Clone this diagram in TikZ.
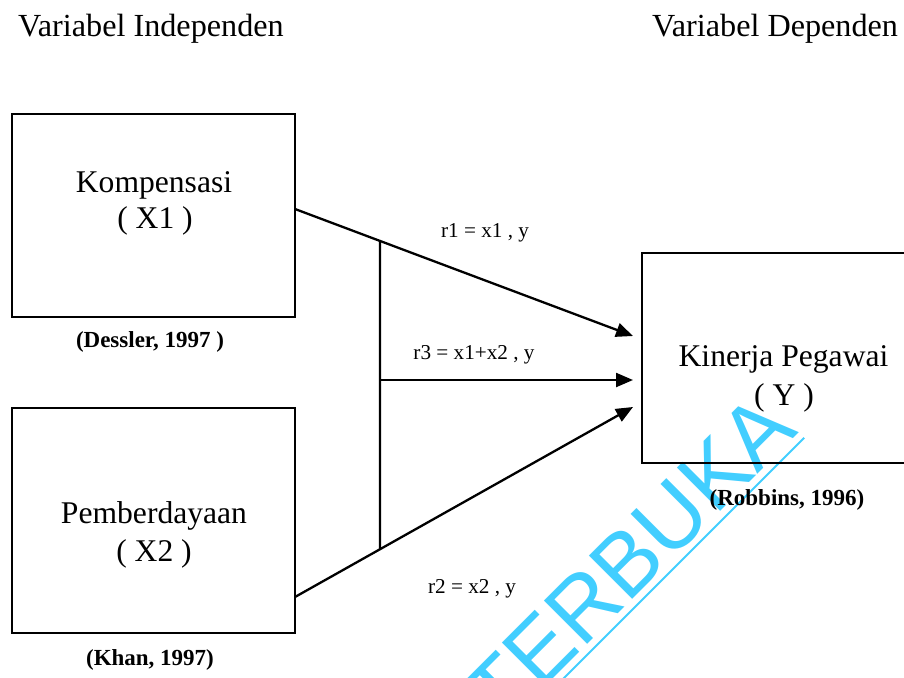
\documentclass[tikz,border=0pt]{standalone}
\usepackage{fontspec}
\setmainfont{Liberation Serif}
\newfontfamily\wmfont{Liberation Sans}
\usetikzlibrary{arrows.meta}
\definecolor{wmcyan}{RGB}{66,206,255}
\begin{document}
\begin{tikzpicture}[x=1pt,y=-1pt,
  box/.style={draw, line width=1.8pt, inner sep=0pt, outer sep=0pt},
  big/.style={font=\fontsize{31.6}{31.6}\selectfont, inner sep=0pt, anchor=base},
  ttl/.style={font=\fontsize{32.2}{32.2}\selectfont, inner sep=0pt, anchor=base west},
  src/.style={font=\bfseries\fontsize{23}{23}\selectfont, inner sep=0pt, anchor=base},
  rlab/.style={font=\fontsize{21.2}{21.2}\selectfont, inner sep=0pt, anchor=base},
  arr/.style={line width=2.3pt, -{Triangle[length=17pt,width=14pt]}},
  link/.style={line width=2.3pt}]
\clip (0,0) rectangle (904,677);
% watermark
\node[font=\wmfont\fontsize{89}{89}\selectfont, text=wmcyan, rotate=45,
      anchor=base west, inner sep=0pt, outer sep=0pt] (wm) at (502,730) {TERBUKA};
\draw[wmcyan, line width=2pt] ([shift={(5,5)}]wm.base west) -- ([shift={(5,5)}]wm.base east);
% titles
\node[ttl] (t_ind) at (18,37) {Variabel Independen};
\node[ttl] (t_dep) at (652,37) {Variabel Dependen};
% boxes
\node[box, minimum width=283pt, minimum height=203pt] (x1) at (153.5,215.5) {};
\node[box, minimum width=283pt, minimum height=225pt] (x2) at (153.5,520.5) {};
\node[box, minimum width=280pt, minimum height=210pt] (y) at (782,358) {};
% box texts
\node[big] (x1a) at (154,192) {Kompensasi};
\node[big] (x1b) at (155,228) {( X1 )};
\node[big] (x2a) at (154,523) {Pemberdayaan};
\node[big] (x2b) at (154,561) {( X2 )};
\node[big] (ya) at (783.5,366) {Kinerja Pegawai};
\node[big] (yb) at (784,405) {( Y )};
% sources
\node[src] (sx1) at (150,347) {(Dessler, 1997 )};
\node[src] (sx2) at (150,665) {(Khan, 1997)};
\node[src] (sy) at (787,505) {(Robbins, 1996)};
% connector points
\coordinate (h1) at (0,209);
\coordinate (h2) at (0,597);
\coordinate (s1) at (x1.east |- h1);
\coordinate (s2) at (x2.east |- h2);
\coordinate (t1) at (633,336);
\coordinate (t3) at (633,380);
\coordinate (t2) at (633,407);
\coordinate (va) at (380,0);
\coordinate (vb) at (380,700);
\coordinate (v1) at (intersection of s1--t1 and va--vb);
\coordinate (v2) at (intersection of s2--t2 and va--vb);
\coordinate (j3) at (v1 |- t3);
% connectors
\draw[arr] (s1) -- (t1);
\draw[arr] (s2) -- (t2);
\draw[link] (v1) -- (v2);
\draw[arr] (j3) -- (t3);
% labels
\node[rlab] (l1) at (485,237) {r1 = x1 , y};
\node[rlab] (l3) at (474,359) {r3 = x1+x2 , y};
\node[rlab] (l2) at (472,593) {r2 = x2 , y};
\end{tikzpicture}
\end{document}
